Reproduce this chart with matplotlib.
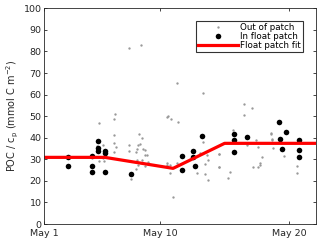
import matplotlib
matplotlib.use("Agg")
import matplotlib.pyplot as plt

# x values are day of May
out_day = [5.25, 6.41, 6.44, 6.41, 6.54, 6.41, 7.58, 8.38, 8.56, 8.43, 8.25, 8.17, 8.64, 8.82,
           8.12, 7.58, 8.82, 8.95, 8.22, 8.61, 9.07, 8.28, 8.82, 8.12, 7.70, 10.63, 10.55,
           7.58, 8.51, 11.28, 13.34, 10.50, 10.84, 11.40, 13.34, 10.50, 10.76, 10.76, 11.28,
           13.61, 13.73, 13.48, 12.83, 13.48, 13.73, 11.02, 14.59, 14.59, 14.56, 14.56, 15.42,
           15.29, 15.68, 16.53, 17.10, 16.53, 17.41, 16.76, 17.57, 18.60, 18.70, 18.78, 17.93,
           17.75, 17.75, 17.57, 17.23, 18.60, 18.70, 19.58, 20.64, 20.64, 5.09, 5.56, 5.24,
           5.60, 5.56, 6.51, 5.27, 13.09]
out_val = [46.8, 48.7, 41.4, 37.4, 35.8, 33.2, 36.6, 41.7, 40.0, 37.2, 36.6, 34.8, 34.8, 34.3,
           33.5, 34.0, 32.0, 32.0, 29.7, 29.7, 28.9, 27.2, 26.9, 25.4, 20.9, 50.1, 27.2,
           81.4, 82.8, 65.2, 60.9, 49.7, 48.5, 47.1, 38.2, 28.1, 27.4, 23.8, 28.4,
           32.1, 29.7, 27.8, 23.5, 23.2, 20.4, 12.4, 32.3, 26.6, 32.3, 26.6, 24.2,
           21.2, 43.6, 55.6, 53.8, 50.4, 38.9, 36.6, 35.6, 42.0, 39.3, 35.1, 31.2,
           28.4, 27.4, 26.6, 26.3, 41.7, 38.9, 31.5, 27.0, 23.8, 36.3, 36.6, 29.3,
           29.1, 30.5, 50.9, 34.6, 32.8]

in_day = [2.81, 2.81, 4.73, 4.73, 4.73, 5.14, 5.14, 5.14, 5.71, 5.71, 5.71, 7.70,
          11.71, 11.71, 12.52, 12.52, 12.72, 13.22, 15.75, 15.75, 15.75, 16.73,
          19.19, 19.32, 19.45, 19.76, 20.80, 20.80, 20.80]
in_val = [31.2, 27.0, 31.7, 27.0, 24.3, 38.3, 35.1, 34.0, 34.0, 32.8, 24.3, 23.2,
          31.4, 25.0, 33.8, 30.9, 27.0, 40.8, 41.9, 39.1, 33.4, 40.5,
          47.4, 39.3, 34.6, 42.7, 39.1, 34.5, 31.2]

fit_day = [1.0, 5.7, 11.0, 15.0, 22.2]
fit_val = [30.9, 30.9, 25.8, 37.4, 37.4]

xtick_pos = [1, 10, 20]
xtick_labels = ["May 1", "May 10", "May 20"]

fig = plt.figure(figsize=(3.2, 2.41), dpi=100)
ax = fig.add_axes([0.1385, 0.0705, 0.849, 0.895])
txtc = "#262626"

ax.plot(out_day, out_val, linestyle="none", marker="o", markersize=1.7,
        color="#999999", markeredgewidth=0, label="Out of patch")
ax.plot(in_day, in_val, linestyle="none", marker="o", markersize=4.0,
        color="black", markeredgewidth=0, label="In float patch")
ax.plot(fit_day, fit_val, color="#ff0000", linewidth=2.3, label="Float patch fit")

ax.set_xlim(1, 22.1)
ax.set_ylim(0, 100)
ax.set_xticks(xtick_pos)
ax.set_xticklabels(xtick_labels)
ax.set_yticks(range(0, 101, 10))
ax.tick_params(direction="in", length=2.5, width=0.6, labelsize=6.8, colors=txtc,
               top=True, right=True)
ax.tick_params(axis="y", pad=2)
ax.tick_params(axis="x", pad=3.5)
for s in ax.spines.values():
    s.set_linewidth(0.6)
    s.set_color(txtc)
ax.set_ylabel("POC / c$_\\mathregular{p}$ (mmol C m$^\\mathregular{-2}$)", fontsize=7,
              color=txtc, labelpad=2)

leg = ax.legend(loc="upper right", fontsize=6.3, frameon=True, fancybox=False,
                edgecolor="black", borderpad=0.2, labelspacing=0.0, handlelength=4.6,
                handletextpad=0.3, borderaxespad=1.5, markerfirst=True)
leg.get_frame().set_linewidth(0.8)

fig.savefig("out.png", dpi=100)
